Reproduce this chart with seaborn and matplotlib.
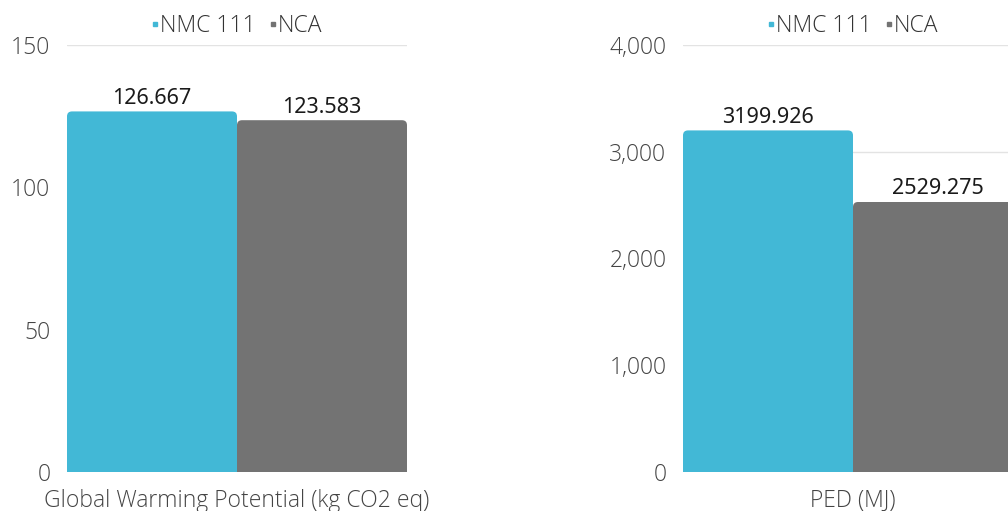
import matplotlib
matplotlib.use("Agg")
import matplotlib.pyplot as plt
from matplotlib.patches import FancyBboxPatch
from matplotlib.lines import Line2D
from matplotlib.ticker import FuncFormatter
import seaborn as sns
import pandas as pd

# data
models = ["NMC 111", "NCA"]
gwp_values = [126.667, 123.583]
ped_values = [3199.926, 2529.275]
metric_gwp = "Global Warming Potential (kg CO2 eq)"
metric_ped = "PED (MJ)"
gwp_ticks = [0, 50, 100, 150]
ped_ticks = [0, 1000, 2000, 3000, 4000]

colors = {"NMC 111": "#42b8d6", "NCA": "#737373"}

sns.set_theme(style="white")
plt.rcParams["font.family"] = ["Open Sans", "DejaVu Sans"]
plt.rcParams["font.weight"] = "light"

fig = plt.figure(figsize=(10.08, 5.11), dpi=100)
W, H = 1008, 511


def panel(left, metric, values, ticks, fmt):
    ax = fig.add_axes([left / W, (H - 472) / H, 340 / W, 427 / H])
    df = pd.DataFrame({"metric": [metric] * len(models), "model": models, "value": values})
    sns.barplot(data=df, x="metric", y="value", hue="model", palette=colors,
                width=1.0, ax=ax, legend=False, saturation=1)
    ax.set_xlim(-0.5, 0.5)
    ax.set_ylim(ticks[0], ticks[-1])
    ax.set_yticks(ticks)
    ax.yaxis.set_major_formatter(FuncFormatter(fmt))
    ax.grid(axis="y", color="#e3e3e3", linewidth=1)
    ax.set_axisbelow(True)
    for s in ax.spines.values():
        s.set_visible(False)
    ax.tick_params(axis="y", length=0, pad=12, labelsize=16.5, labelcolor="#444444")
    ax.tick_params(axis="x", length=0, pad=12, labelsize=16.5, labelcolor="#444444")
    ax.set_xlabel("")
    ax.set_ylabel("")

    # rounded top corners
    rx = 5 / 340
    ry = 5 * (ticks[-1] - ticks[0]) / 427
    for p in list(ax.patches):
        x, y0, w, h = p.get_x(), p.get_y(), p.get_width(), p.get_height()
        fc = p.get_facecolor()
        p.set_visible(False)
        fb = FancyBboxPatch((x, y0 - ry), w, h + ry,
                            boxstyle=f"round,pad=0,rounding_size={rx}",
                            mutation_aspect=ry / rx, facecolor=fc,
                            edgecolor="none", clip_on=True)
        ax.add_patch(fb)
        ax.text(x + w / 2, h + ry * 0.5, f"{h:.3f}", ha="center", va="bottom",
                fontsize=15.5, color="#1a1a1a", fontweight="normal",
                family=["Noto Sans", "DejaVu Sans"])

    handles = [Line2D([], [], marker="s", linestyle="none", markersize=2.8,
                      markerfacecolor=colors[m], markeredgecolor=colors[m]) for m in models]
    ax.legend(handles, models, loc="lower center", bbox_to_anchor=(0.5, 0.99),
              ncol=2, frameon=False, fontsize=16.5, handlelength=0.3,
              handletextpad=0.05, columnspacing=0.6, labelcolor="#333333",
              borderaxespad=0.1)
    return ax


panel(67, metric_gwp, gwp_values, gwp_ticks, lambda v, _: f"{v:.0f}")
panel(683, metric_ped, ped_values, ped_ticks, lambda v, _: f"{v:,.0f}")

fig.savefig("out.png", dpi=100)
